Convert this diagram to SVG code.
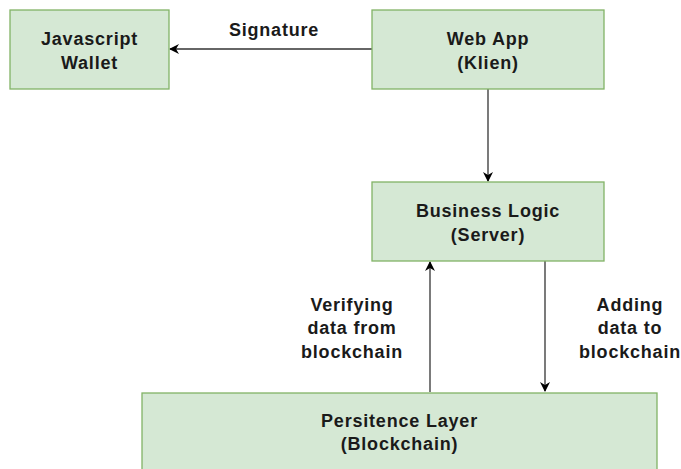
<svg xmlns="http://www.w3.org/2000/svg" width="681" height="469" viewBox="0 0 681 469">
  <defs>
    <marker id="arrow" viewBox="0 0 10 10" refX="9" refY="5" markerWidth="10" markerHeight="10" markerUnits="userSpaceOnUse" orient="auto">
      <path d="M0,0 L10,5 L0,10 L3,5 Z" fill="#000"/>
    </marker>
    <style>
      .box { fill: #d5e8d4; stroke: #82b366; stroke-width: 1.3; }
      .t { font-family: "Liberation Sans", Arial, sans-serif; font-size: 18px; font-weight: bold; letter-spacing: 0.8px; fill: #1a1a1a; text-anchor: middle; }
      .edge { stroke: #333; stroke-width: 1.3; fill: none; marker-end: url(#arrow); }
    </style>
  </defs>
  <rect width="681" height="469" fill="#fff"/>

  <g id="connectors">
    <line class="edge" x1="372" y1="49" x2="170" y2="49"/>
    <line class="edge" x1="488" y1="89" x2="488" y2="181"/>
    <line class="edge" x1="430" y1="392" x2="430" y2="262"/>
    <line class="edge" x1="545" y1="261" x2="545" y2="391"/>
    <text class="t" x="274" y="36">Signature</text>
    <text class="t" x="352" y="311">Verifying</text>
    <text class="t" x="352" y="334">data from</text>
    <text class="t" x="352" y="358">blockchain</text>
    <text class="t" x="630" y="311">Adding</text>
    <text class="t" x="630" y="334">data to</text>
    <text class="t" x="630" y="358">blockchain</text>
  </g>

  <g id="wallet">
    <rect class="box" x="10" y="10" width="159" height="79"/>
    <text class="t" x="89.5" y="45">Javascript</text>
    <text class="t" x="89.5" y="69">Wallet</text>
  </g>

  <g id="webapp">
    <rect class="box" x="372" y="10" width="232" height="79"/>
    <text class="t" x="488" y="45">Web App</text>
    <text class="t" x="488" y="69">(Klien)</text>
  </g>

  <g id="business">
    <rect class="box" x="372" y="182" width="232" height="79"/>
    <text class="t" x="488" y="217">Business Logic</text>
    <text class="t" x="488" y="241">(Server)</text>
  </g>

  <g id="persistence">
    <rect class="box" x="142" y="393" width="515" height="90"/>
    <text class="t" x="399.5" y="427">Persitence Layer</text>
    <text class="t" x="399.5" y="450">(Blockchain)</text>
  </g>
</svg>
